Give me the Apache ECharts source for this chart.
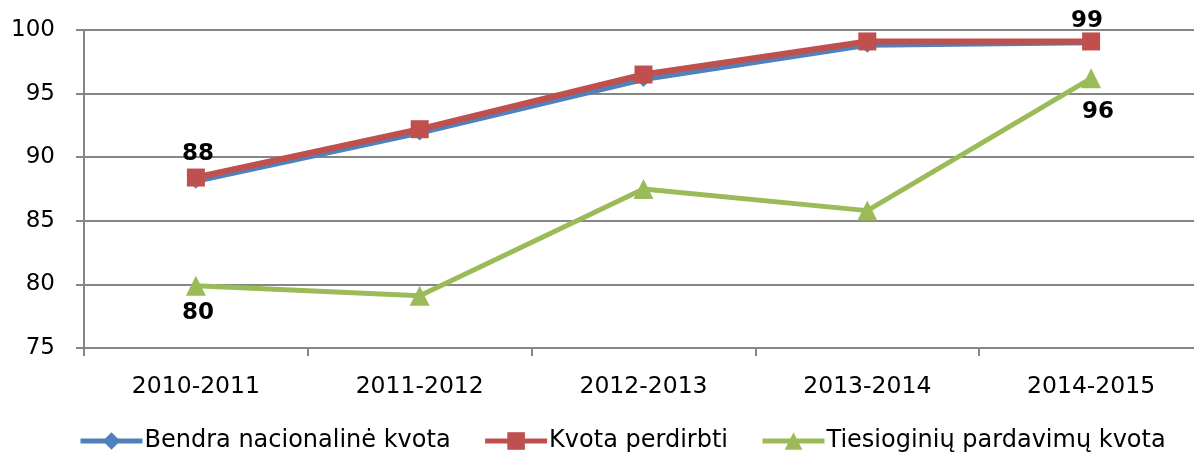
<!DOCTYPE html>
<html>
<head>
<meta charset="utf-8">
<script src="https://cdn.jsdelivr.net/npm/echarts@6/dist/echarts.min.js"></script>
<style>
  html, body { margin: 0; padding: 0; background: #fff; overflow: hidden; }
  #chart { width: 1203px; height: 452px; }
</style>
</head>
<body>
<div id="chart"></div>
<script>
var seasons = ["2010-2011", "2011-2012", "2012-2013", "2013-2014", "2014-2015"];
var bendraKvota = [88.1, 91.9, 96.1, 98.8, 99.0];
var kvotaPerdirbti = [88.4, 92.2, 96.5, 99.1, 99.1];
var tiesioginiuKvota = [79.9, 79.1, 87.5, 85.8, 96.2];
var redLabelIdx = [0, 4];
var greenLabelIdx = [0, 4];

var font = "DejaVu Sans";

// only a couple of points carry a value label
function withLabels(values, idxList, position, distance, offset) {
  return values.map(function (v, i) {
    if (idxList.indexOf(i) < 0) return v;
    return {
      value: v,
      label: {
        show: true,
        position: position,
        distance: distance,
        offset: i === 4 ? offset : [2, 0],
        formatter: function (p) { return Math.round(p.value); },
        fontFamily: font,
        fontWeight: "bold",
        fontSize: 23,
        color: "#000",
      },
    };
  });
}

var chart = echarts.init(document.getElementById("chart"), null, { renderer: "canvas" });
var option = {
  animation: false,
  grid: { left: 84, right: 0, top: 30, bottom: 104, containLabel: false },
  legend: {
    left: 73,
    bottom: -6,
    itemWidth: 62,
    itemHeight: 22,
    itemGap: 32,
    lineStyle: { width: 5 },
    textStyle: { fontFamily: font, fontSize: 24, color: "#000", padding: [0, 0, 0, -3] },
    data: ["Bendra nacionalinė kvota", "Kvota perdirbti", "Tiesioginių pardavimų kvota"],
  },
  xAxis: {
    type: "category",
    data: seasons,
    boundaryGap: true,
    axisLine: { lineStyle: { color: "#868686", width: 2 } },
    axisTick: { show: true, length: 8, lineStyle: { color: "#868686", width: 2 } },
    axisLabel: { fontFamily: font, fontSize: 23.5, color: "#000", margin: 27 },
  },
  yAxis: {
    type: "value",
    min: 75,
    max: 100,
    interval: 5,
    axisLine: { show: true, lineStyle: { color: "#868686", width: 2 } },
    axisTick: { show: true, length: 8, lineStyle: { color: "#868686", width: 2 } },
    axisLabel: { fontFamily: font, fontSize: 23, color: "#000", margin: 29 },
    splitLine: { lineStyle: { color: "#868686", width: 2 } },
  },
  series: [
    {
      name: "Bendra nacionalinė kvota",
      type: "line",
      data: bendraKvota,
      symbol: "diamond",
      symbolSize: 15,
      color: "#4F81BD",
      lineStyle: { width: 5, color: "#4F81BD" },
      itemStyle: { color: "#4F81BD" },
    },
    {
      name: "Kvota perdirbti",
      type: "line",
      data: withLabels(kvotaPerdirbti, redLabelIdx, "top", 3, [-4, 3]),
      symbol: "rect",
      symbolSize: 18,
      color: "#C0504D",
      lineStyle: { width: 6, color: "#C0504D" },
      itemStyle: { color: "#C0504D" },
    },
    {
      name: "Tiesioginių pardavimų kvota",
      type: "line",
      data: withLabels(tiesioginiuKvota, greenLabelIdx, "bottom", 6, [7, 6]),
      symbol: "triangle",
      symbolSize: 20,
      color: "#9BBB59",
      lineStyle: { width: 5, color: "#9BBB59" },
      itemStyle: { color: "#9BBB59" },
    },
  ],
};
chart.setOption(option);
</script>
</body>
</html>
